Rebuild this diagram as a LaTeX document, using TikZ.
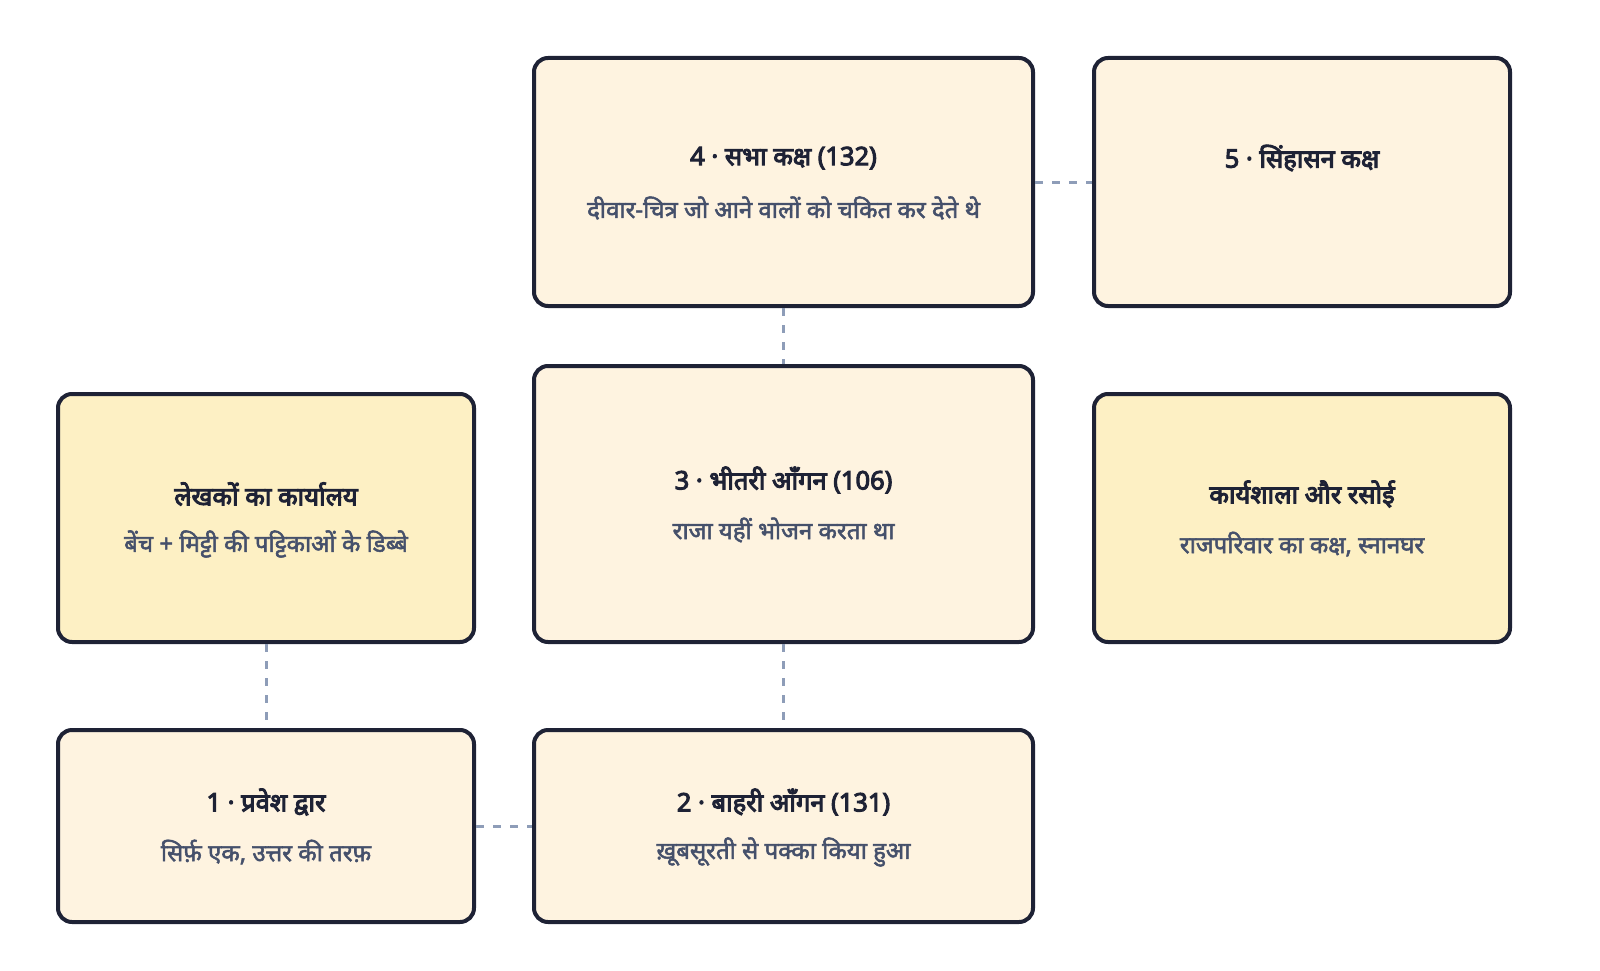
\documentclass[tikz,border=0pt]{standalone}
\usepackage{fontspec}
\setmainfont[Script=Devanagari]{Noto Sans}
\newfontfamily\roomfont[Script=Devanagari,FakeBold=4]{Noto Sans}
\newfontfamily\notefont[Script=Devanagari,FakeBold=2.2]{Noto Sans}
\usetikzlibrary{arrows,positioning}
\definecolor{roomline}{HTML}{1E2235}
\definecolor{roomfill}{HTML}{FEF3E0}
\definecolor{sidefill}{HTML}{FDF0C4}
\definecolor{subtext}{HTML}{45506B}
\definecolor{linkline}{HTML}{8E9DB8}
\newcommand{\Rtitle}[1]{{\roomfont\fontsize{25.5}{30}\selectfont\textcolor{roomline}{#1}}}
\newcommand{\Rnote}[1]{{\notefont\fontsize{24}{28}\selectfont\textcolor{subtext}{#1}}}
\tikzset{room/.style={rectangle,rounded corners=14pt,draw=roomline,line width=4pt,fill=roomfill,inner sep=0pt}}
\tikzset{link/.style={-,draw=linkline,line width=3pt,dash pattern=on 8pt off 9pt}}

\begin{document}
\begin{tikzpicture}[x=1pt,y=-1pt]
\useasboundingbox (0,0) rectangle (1600,971);
% \draw[help lines] (0,0) grid (1600,971);
\node (r4) [room,minimum width=499pt,minimum height=248pt] at (783.5,182) {};
\node (r5) [room,minimum width=416pt,minimum height=248pt] at (1302,182) {};
\node (rl) [room,fill=sidefill,minimum width=416pt,minimum height=248pt] at (266,518) {};
\node (r3) [room,minimum width=499pt,minimum height=276pt] at (783.5,504) {};
\node (rw) [room,fill=sidefill,minimum width=416pt,minimum height=248pt] at (1302,518) {};
\node (r1) [room,minimum width=416pt,minimum height=192pt] at (266,826) {};
\node (r2) [room,minimum width=499pt,minimum height=192pt] at (783.5,826) {};
%
\node (t4) at ([yshift=24pt]r4.center) {\Rtitle{4 · सभा कक्ष (132)}};
\node (n4) at ([yshift=-26pt]r4.center) {\Rnote{दीवार-चित्र जो आने वालों को चकित कर देते थे}};
\node (t5) at ([yshift=24pt]r5.center) {\Rtitle{5 · सिंहासन कक्ष}};
\node (tl) at ([yshift=24pt]rl.center) {\Rtitle{लेखकों का कार्यालय}};
\node (nl) at ([yshift=-26pt]rl.center) {\Rnote{बेंच + मिट्टी की पट्टिकाओं के डिब्बे}};
\node (t3) at ([yshift=24pt]r3.center) {\Rtitle{3 · भीतरी आँगन (106)}};
\node (n3) at ([yshift=-26pt]r3.center) {\Rnote{राजा यहीं भोजन करता था}};
\node (tw) at ([yshift=24pt]rw.center) {\Rtitle{कार्यशाला और रसोई}};
\node (nw) at ([yshift=-26pt]rw.center) {\Rnote{राजपरिवार का कक्ष, स्नानघर}};
\node (t1) at ([yshift=24pt]r1.center) {\Rtitle{1 · प्रवेश द्वार}};
\node (n1) at ([yshift=-26pt]r1.center) {\Rnote{सिर्फ़ एक, उत्तर की तरफ़}};
\node (t2) at ([yshift=24pt]r2.center) {\Rtitle{2 · बाहरी आँगन (131)}};
\node (n2) at ([yshift=-26pt]r2.center) {\Rnote{ख़ूबसूरती से पक्का किया हुआ}};
%
\path[link] (r4.east) edge (r5.west);
\path[link] (r4.south) edge (r3.north);
\path[link] (r3.south) edge (r2.north);
\path[link] (rl.south) edge (r1.north);
\path[link] (r1.east) edge (r2.west);
\end{tikzpicture}
\end{document}
